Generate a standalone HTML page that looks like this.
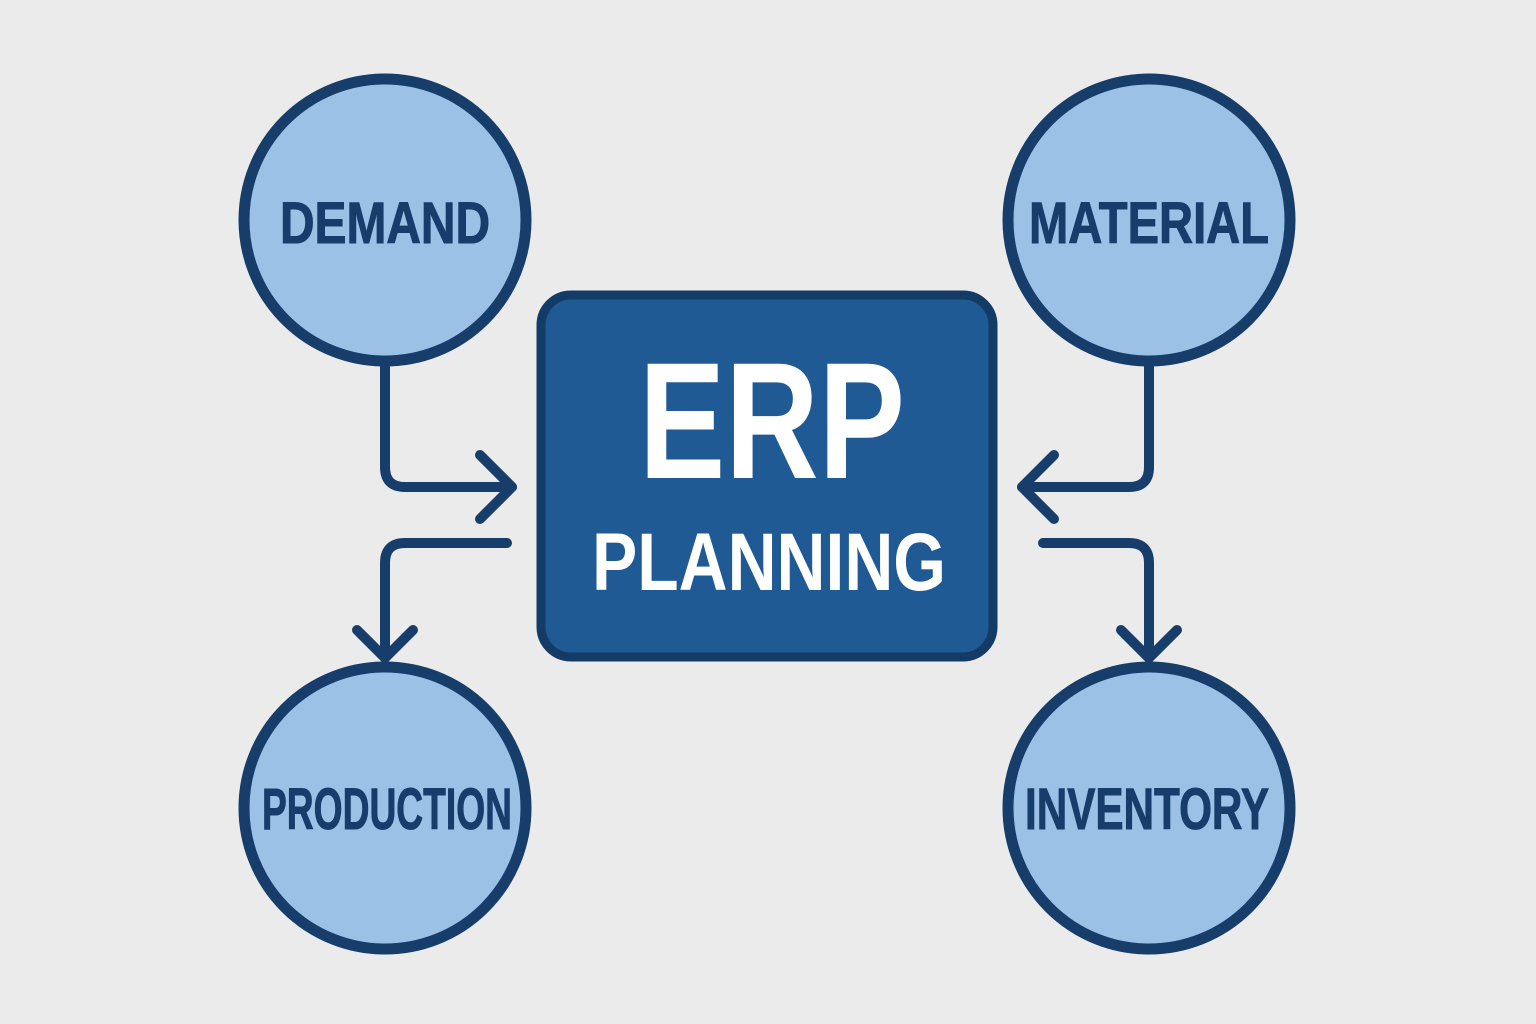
<!DOCTYPE html>
<html><head><meta charset="utf-8"><style>
html,body{margin:0;padding:0;background:#ebebeb;}
svg{display:block;}
</style></head><body>
<svg width="1536" height="1024" viewBox="0 0 1536 1024" xmlns="http://www.w3.org/2000/svg">
<rect width="1536" height="1024" fill="#ebebeb"/>
<g fill="#9bc2e6" stroke="#173d6b" stroke-width="11">
<circle cx="385" cy="220" r="141"/>
<circle cx="1149" cy="220" r="141"/>
<circle cx="385" cy="808" r="141"/>
<circle cx="1149" cy="808" r="141"/>
</g>
<rect x="541" y="295" width="452" height="362" rx="30" fill="#1f5a94" stroke="#143a66" stroke-width="9"/>
<g fill="none" stroke="#173d6b" stroke-width="10" stroke-linecap="round" stroke-linejoin="round">
<path d="M385 367 V467 Q385 487 405 487 H512"/>
<path d="M480 455 L512 487 L480 519"/>
<path d="M507 543 H405 Q385 543 385 563 V656"/>
<path d="M357 630 L385 658 L413 630"/>
<path d="M1149 367 V467 Q1149 487 1129 487 H1022"/>
<path d="M1054 455 L1022 487 L1054 519"/>
<path d="M1043 543 H1129 Q1149 543 1149 563 V656"/>
<path d="M1121 630 L1149 658 L1177 630"/>
</g>
<g font-family="'Liberation Sans',sans-serif" font-weight="bold" fill="#173d6b" stroke="#173d6b" stroke-width="1" font-size="58">
<text x="385" y="243" text-anchor="middle" textLength="210" lengthAdjust="spacingAndGlyphs">DEMAND</text>
<text x="1149" y="243" text-anchor="middle" textLength="240" lengthAdjust="spacingAndGlyphs">MATERIAL</text>
<text x="387" y="829" text-anchor="middle" textLength="250" lengthAdjust="spacingAndGlyphs">PRODUCTION</text>
<text x="1147" y="829" text-anchor="middle" textLength="244" lengthAdjust="spacingAndGlyphs">INVENTORY</text>
</g>
<g font-family="'Liberation Sans',sans-serif" font-weight="bold" fill="#ffffff">
<text x="772" y="478" text-anchor="middle" font-size="166" textLength="266" lengthAdjust="spacingAndGlyphs">ERP</text>
<text x="769" y="590" text-anchor="middle" font-size="82" textLength="354" lengthAdjust="spacingAndGlyphs">PLANNING</text>
</g>
</svg>
</body></html>
